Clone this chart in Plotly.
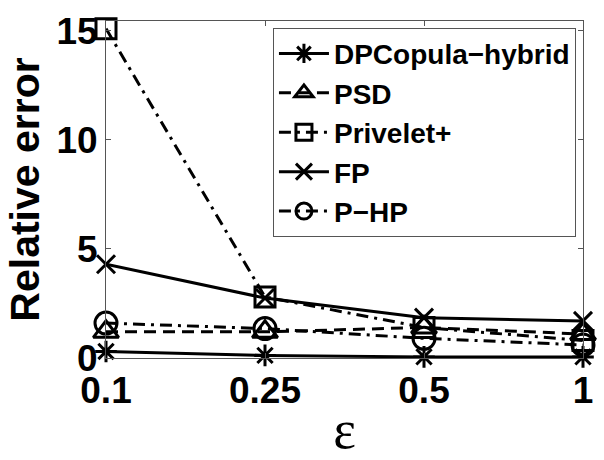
import plotly.graph_objects as go

eps_labels = ["0.1", "0.25", "0.5", "1"]
dpcopula = [0.3, 0.12, 0.05, 0.05]
psd = [1.2, 1.2, 1.4, 1.1]
privelet = [15.1, 2.8, 1.4, 0.8]
fp = [4.3, 2.75, 1.85, 1.7]
php = [1.6, 1.35, 0.9, 0.6]
y_ticks = [0, 5, 10, 15]

x_idx = list(range(len(eps_labels)))

series = [
    ("DPCopula\u2212hybrid", dpcopula, "asterisk-open", "solid", 18),
    ("PSD", psd, "triangle-up-open", "12px,7px", 22),
    ("Privelet+", privelet, "square-open", "12px,6px,3px,6px", 20),
    ("FP", fp, "x-thin-open", "solid", 18),
    ("P\u2212HP", php, "circle-open", "12px,6px,3px,6px", 22),
]

fig = go.Figure()
for name, vals, sym, dash, sz in series:
    fig.add_trace(go.Scatter(
        x=x_idx, y=vals, name=name, mode="lines+markers",
        line=dict(color="black", width=3, dash=dash),
        marker=dict(symbol=sym, size=sz, color="black",
                    line=dict(color="black", width=3)),
        cliponaxis=False,
    ))

fig.update_layout(
    width=604, height=460,
    margin=dict(l=106, r=11, t=15, b=96),
    plot_bgcolor="white", paper_bgcolor="white",
    font=dict(family="Liberation Sans, Arial", color="black"),
    showlegend=True,
    legend=dict(
        x=0.35, y=0.98, xanchor="left", yanchor="top",
        bgcolor="white", bordercolor="#555", borderwidth=1,
        font=dict(size=28, weight="bold", family="Liberation Sans, Arial"),
        itemwidth=50, tracegroupgap=0,
    ),
    xaxis=dict(
        range=[0, 3], tickmode="array", tickvals=x_idx, ticktext=eps_labels,
        ticks="inside", ticklen=5, tickcolor="#555",
        showline=True, linecolor="#555", linewidth=1, mirror="ticks",
        showgrid=False, zeroline=False,
        tickfont=dict(size=37, weight="bold"),
        title=dict(text="\u03b5", font=dict(size=54, family="Liberation Serif, Times New Roman"), standoff=0),
    ),
    yaxis=dict(
        range=[0, 15.45], tickmode="array", tickvals=y_ticks,
        ticks="inside", ticklen=5, tickcolor="#555",
        showline=True, linecolor="#555", linewidth=1, mirror="ticks",
        showgrid=False, zeroline=False,
        tickfont=dict(size=37, weight="bold"),
        title=dict(text="Relative error", font=dict(size=41, weight="bold"), standoff=4),
    ),
)

fig.write_html("out.html")
